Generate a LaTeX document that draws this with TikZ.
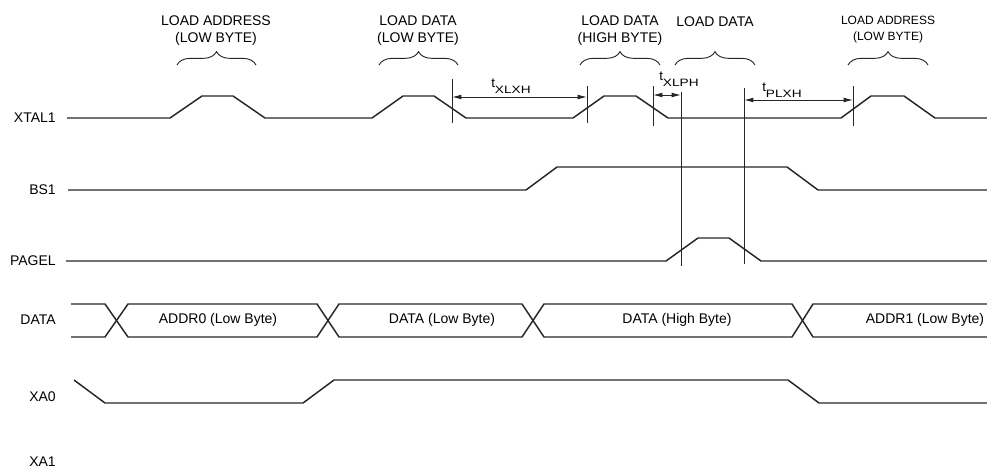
\documentclass[tikz,border=0pt]{standalone}
\usepackage{fontspec}
\setmainfont{Liberation Sans}
\usetikzlibrary{decorations.pathreplacing,arrows.meta}
\newcommand{\subtxt}[1]{\raisebox{-4.5pt}{\scalebox{1.28}[1]{\fontsize{8}{9}\selectfont #1}}}
\begin{document}
\begin{tikzpicture}[x=0.75pt,y=-0.75pt,
  sig/.style={line width=1.1pt, line join=miter, draw=black!85},
  marker/.style={line width=0.7pt, draw=black!85},
  dimline/.style={line width=0.7pt, draw=black!85, {Latex[length=7pt,width=3.6pt]}-{Latex[length=7pt,width=3.6pt]}},
  lbl/.style={anchor=east, inner sep=0pt, font=\fontsize{10.5}{12}\selectfont},
  hdr/.style={align=center, inner sep=0pt, font=\fontsize{10.5}{12.75}\selectfont},
  hdrsmall/.style={align=center, inner sep=0pt, font=\fontsize{9}{12}\selectfont},
  bustext/.style={inner sep=0pt, font=\fontsize{10.5}{12}\selectfont},
  tlabel/.style={anchor=base west, inner sep=0pt, font=\fontsize{10}{12}\selectfont},
  bracedec/.style={line width=0.7pt, draw=black!85, decoration={brace, amplitude=10pt}, decorate}
]
\useasboundingbox (0,0) rectangle (987,468);

% signal names
\node[lbl] (nxtal) at (56,118) {XTAL1};
\node[lbl] (nbs)   at (56,190) {BS1};
\node[lbl] (npag)  at (56,261) {PAGEL};
\node[lbl] (ndata) at (56,320) {DATA};
\node[lbl] (nxa0)  at (56,397) {XA0};
\node[lbl] (nxa1)  at (56,462) {XA1};

% headers
\node[hdr] (h1) at (216,30.5) {LOAD ADDRESS\\(LOW BYTE)};
\node[hdr] (h2) at (418,30.5) {LOAD DATA\\(LOW BYTE)};
\node[hdr] (h3) at (620,30.5) {LOAD DATA\\(HIGH BYTE)};
\node[hdr] (h4) at (715,22) {LOAD DATA};
\node[hdrsmall] (h5) at (888,30) {LOAD ADDRESS\\(LOW BYTE)};

% braces
\draw[bracedec] (177,65) -- (256,65);
\draw[bracedec] (379,65) -- (458,65);
\draw[bracedec] (580,65) -- (660,65);
\draw[bracedec] (675,65) -- (755,65);
\draw[bracedec] (848,65) -- (928,65);

% XTAL1
\draw[sig] (67,118) -- (170,118) -- (202,96) -- (233,96) -- (265,118)
  -- (372,118) -- (403,96) -- (434,96) -- (466,118)
  -- (573,118) -- (604,96) -- (636,96) -- (668,118)
  -- (841,118) -- (871,96) -- (904,96) -- (935,118) -- (987,118);

% BS1
\draw[sig] (68,190) -- (526,190) -- (557,167) -- (787,167) -- (818,190) -- (987,190);

% PAGEL
\draw[sig] (66,261) -- (666,261) -- (698,238) -- (729,238) -- (761,261) -- (987,261);

% DATA bus
\draw[sig] (71,304) -- (105,304) -- (128,337) -- (317,337) -- (339,304) -- (522,304) -- (544,337) -- (792,337) -- (813,304) -- (987,304);
\draw[sig] (71,337) -- (105,337) -- (128,304) -- (317,304) -- (339,337) -- (522,337) -- (544,304) -- (792,304) -- (813,337) -- (987,337);
\node[bustext] (d1) at (218,320) {ADDR0 (Low Byte)};
\node[bustext] (d2) at (442,320) {DATA (Low Byte)};
\node[bustext] (d3) at (677,320) {DATA (High Byte)};
\node[bustext] (d4) at (925,320) {ADDR1 (Low Byte)};

% XA0
\draw[sig] (74,380) -- (105,403) -- (303,403) -- (334,380) -- (788,380) -- (819,403) -- (987,403);

% markers
\coordinate (m1t) at (452,79);  \coordinate (m1b) at (452,123);
\coordinate (m2t) at (587,86);  \coordinate (m2b) at (587,123);
\coordinate (m3t) at (653,86);  \coordinate (m3b) at (653,126);
\coordinate (m4t) at (681,92);  \coordinate (m4b) at (681,266);
\coordinate (m5t) at (744,88);  \coordinate (m5b) at (744,264);
\coordinate (m6t) at (853,86);  \coordinate (m6b) at (853,126);
\draw[marker] (m1t) -- (m1b);
\draw[marker] (m2t) -- (m2b);
\draw[marker] (m3t) -- (m3b);
\draw[marker] (m4t) -- (m4b);
\draw[marker] (m5t) -- (m5b);
\draw[marker] (m6t) -- (m6b);

% dimension arrows
\coordinate (a1l) at (452,97); \coordinate (a1r) at (587,97);
\coordinate (a2l) at (653,95); \coordinate (a2r) at (681,95);
\coordinate (a3l) at (744,100); \coordinate (a3r) at (853,100);
\draw[dimline] (a1l) -- (a1r);
\draw[dimline] (a2l) -- (a2r);
\draw[dimline] (a3l) -- (a3r);

\node[tlabel] (t1) at (491,87) {t\subtxt{XLXH}};
\node[tlabel] (t2) at (659,80) {t\subtxt{XLPH}};
\node[tlabel] (t3) at (762,91) {t\subtxt{PLXH}};
\end{tikzpicture}
\end{document}
